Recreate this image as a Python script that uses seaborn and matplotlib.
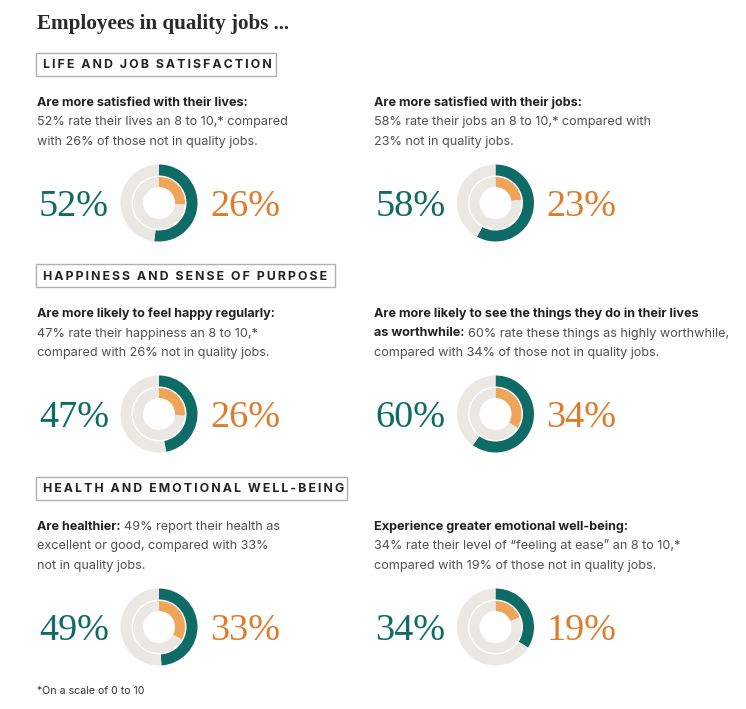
import matplotlib
matplotlib.use("Agg")
import matplotlib.pyplot as plt
import seaborn as sns

sns.set_theme(style="white")
plt.rcParams['font.family'] = ['Inter', 'DejaVu Sans']

# datos
quality = [52, 58, 47, 60, 49, 34]
not_quality = [26, 23, 26, 34, 33, 19]
sections = ["LIFE AND JOB SATISFACTION",
            "HAPPINESS AND SENSE OF PURPOSE",
            "HEALTH AND EMOTIONAL WELL-BEING"]
title = "Employees in quality jobs ..."
footnote = "*On a scale of 0 to 10"
# cada bloque: lineas -> segmentos (texto, negrita)
blocks = [
    [[("Are more satisfied with their lives:", True)],
     [("52% rate their lives an 8 to 10,* compared", False)],
     [("with 26% of those not in quality jobs.", False)]],
    [[("Are more satisfied with their jobs:", True)],
     [("58% rate their jobs an 8 to 10,* compared with", False)],
     [("23% not in quality jobs.", False)]],
    [[("Are more likely to feel happy regularly:", True)],
     [("47% rate their happiness an 8 to 10,*", False)],
     [("compared with 26% not in quality jobs.", False)]],
    [[("Are more likely to see the things they do in their lives", True)],
     [("as worthwhile:", True), ("60% rate these things as highly worthwhile,", False)],
     [("compared with 34% of those not in quality jobs.", False)]],
    [[("Are healthier:", True), ("49% report their health as", False)],
     [("excellent or good, compared with 33%", False)],
     [("not in quality jobs.", False)]],
    [[("Experience greater emotional well-being:", True)],
     [("34% rate their level of \u201cfeeling at ease\u201d an 8 to 10,*", False)],
     [("compared with 19% of those not in quality jobs.", False)]],
]

TEAL = "#0f6b65"
ORANGE_TXT = "#e07b2c"
ORANGE_RING = "#eea55a"
GRAY = "#ebe7e3"
DARK = "#222222"
BODY = "#505050"
SERIF = ['Liberation Serif', 'DejaVu Serif']

W, H = 746, 709
fig = plt.figure(figsize=(W / 100, H / 100), dpi=100)
ax = fig.add_axes([0, 0, 1, 1])
renderer = fig.canvas.get_renderer()


def Y(y):
    return H - y


# titulo
ax.text(37, Y(29), title, family=SERIF, fontsize=15.2, fontweight='bold',
        color="#2a2a2a", va='baseline')

box_y = [64, 275, 488]
box_right = [276, 335, 347]
for s, by, br in zip(sections, box_y, box_right):
    ax.add_patch(plt.Rectangle((36, Y(by + 11.5)), br - 36, 23, fill=False,
                               edgecolor="#b0b0b0", linewidth=1.0))
    spaced = "\u2006".join(s)
    ax.text(43, Y(by + 4.5), spaced, fontsize=8.9, fontweight='bold', color=DARK,
            va='baseline')

col_x = [37, 374]
donut_x = [159, 495.5]
for i in range(6):
    row, col = divmod(i, 2)
    by = box_y[row]
    x0 = col_x[col]
    for j, line in enumerate(blocks[i]):
        yb = by + 42 + j * 19.5
        x = x0
        for txt, bold in line:
            t = ax.text(x, Y(yb), txt, fontsize=9.1, va='baseline',
                        fontweight='bold' if bold else 'normal',
                        color=DARK if bold else BODY)
            x += t.get_window_extent(renderer).width + 3.5

    cx, cy = donut_x[col], by + 139
    ax.pie([quality[i], 100 - quality[i]], center=(cx, Y(cy)), radius=38.5,
           startangle=90, counterclock=False, colors=[TEAL, GRAY],
           wedgeprops=dict(width=11, linewidth=0))
    ax.pie([not_quality[i], 100 - not_quality[i]], center=(cx, Y(cy)), radius=26,
           startangle=90, counterclock=False, colors=[ORANGE_RING, GRAY],
           wedgeprops=dict(width=10, linewidth=0))
    ax.text(cx - 50, Y(cy + 13), f"{quality[i]}%", family=SERIF, fontsize=27.5,
            color=TEAL, ha='right', va='baseline')
    ax.text(cx + 51, Y(cy + 13), f"{not_quality[i]}%", family=SERIF, fontsize=27.5,
            color=ORANGE_TXT, ha='left', va='baseline')

ax.text(37, Y(694), footnote, fontsize=7.6, color="#333333", va='baseline')

ax.set_xlim(0, W)
ax.set_ylim(0, H)
ax.set_aspect('auto')
ax.axis('off')

plt.savefig("out.png", dpi=100, facecolor="white")
plt.close()
